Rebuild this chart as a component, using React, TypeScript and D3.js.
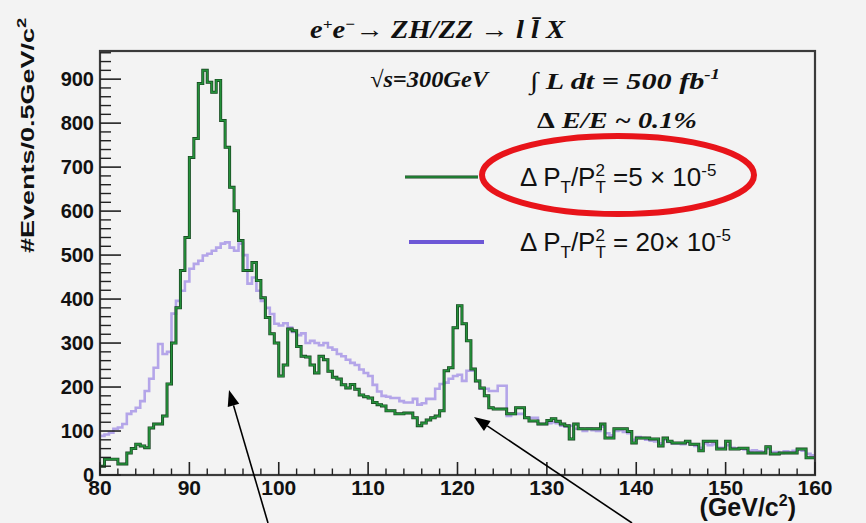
import React from "react";
import * as d3 from "d3";

const W = 866;
const H = 523;

// bin lower edges start at 80 GeV, bin width 0.5 GeV
const BIN_START = 80;
const BIN_WIDTH = 0.5;

// ΔPT/PT^2 = 5e-5 (green)
const greenCounts = [
  20, 36, 36, 36, 25, 25, 50, 60, 70, 66,
  62, 107, 116, 116, 134, 207, 300, 380, 465, 540,
  722, 765, 890, 920, 893, 870, 897, 806, 745, 654,
  601, 533, 465, 465, 483, 442, 403, 358, 321, 300,
  225, 250, 332, 328, 292, 270, 268, 250, 232, 270,
  262, 236, 222, 218, 205, 198, 206, 195, 182, 178,
  175, 165, 160, 157, 146, 146, 139, 139, 141, 141,
  130, 112, 118, 125, 130, 134, 146, 237, 244, 335,
  385, 344, 305, 241, 214, 198, 180, 153, 150, 150,
  150, 139, 139, 153, 153, 130, 123, 123, 116, 116,
  124, 128, 122, 116, 112, 82, 116, 105, 105, 105,
  105, 105, 116, 84, 84, 105, 105, 105, 99, 73,
  84, 84, 84, 82, 82, 66, 84, 77, 73, 73,
  73, 77, 70, 70, 55, 77, 77, 77, 59, 59,
  77, 59, 59, 61, 61, 50, 50, 50, 50, 64,
  48, 48, 50, 50, 50, 50, 59, 59, 39, 39,
];

// ΔPT/PT^2 = 20e-5 (purple)
const purpleCounts = [
  89, 92, 96, 105, 108, 116, 139, 145, 153, 168,
  191, 219, 244, 298, 275, 280, 367, 396, 419, 440,
  469, 480, 487, 499, 503, 510, 517, 526, 529, 517,
  510, 526, 500, 435, 449, 419, 396, 380, 366, 344,
  340, 345, 335, 325, 318, 322, 300, 305, 300, 295,
  300, 290, 285, 275, 270, 262, 255, 250, 240, 232,
  225, 205, 190, 180, 178, 175, 175, 168, 165, 165,
  173, 160, 163, 173, 173, 196, 207, 210, 219, 225,
  228, 214, 237, 237, 214, 196, 196, 191, 191, 203,
  203, 134, 139, 139, 139, 130, 130, 130, 116, 116,
  118, 120, 118, 112, 110, 112, 105, 105, 100, 105,
  102, 100, 110, 95, 90, 100, 102, 98, 95, 80,
  86, 84, 80, 78, 76, 72, 80, 75, 72, 72,
  70, 75, 70, 66, 62, 72, 68, 70, 62, 62,
  68, 62, 60, 60, 58, 55, 56, 54, 52, 60,
  52, 52, 50, 54, 52, 55, 58, 55, 48, 45,
];

const xTickValues = [80, 90, 100, 110, 120, 130, 140, 150, 160];
const yTickValues = [0, 100, 200, 300, 400, 500, 600, 700, 800, 900];

const X_DOMAIN = [80, 160];
const Y_DOMAIN = [0, 964];

const left = 100;
const right = 815;
const top = 51;
const bottom = 475;

const BG = "#f3f3f3";
const GREEN = "#24903a";
const GREEN_DARK = "#173f1f";
const PURPLE = "#a897e6";

export default function App() {
  const x = d3.scaleLinear().domain(X_DOMAIN).range([left, right]);
  const y = d3.scaleLinear().domain(Y_DOMAIN).range([bottom, top]);

  const histPath = (counts: number[]) => {
    const pts: [number, number][] = counts.map((c, i) => [BIN_START + i * BIN_WIDTH, c]);
    pts.push([BIN_START + counts.length * BIN_WIDTH, counts[counts.length - 1]]);
    return d3
      .line<[number, number]>()
      .x((d) => x(d[0]))
      .y((d) => y(d[1]))
      .curve(d3.curveStepAfter)(pts) as string;
  };

  const yMinor = d3.range(0, 961, 20).filter((v) => v % 100 !== 0);
  const xMinor = d3.range(80, 160.01, 2).filter((v) => v % 10 !== 0);

  const sans = "'Liberation Sans', Arial, Helvetica, sans-serif";
  const serif = "'Liberation Serif', 'Times New Roman', serif";

  const arrow = (x1: number, y1: number, x2: number, y2: number, key: string) => {
    const ang = Math.atan2(y2 - y1, x2 - x1);
    const len = 16;
    const wid = 6;
    const bx = x2 - len * Math.cos(ang);
    const by = y2 - len * Math.sin(ang);
    const px = -Math.sin(ang) * wid;
    const py = Math.cos(ang) * wid;
    return (
      <g key={key}>
        <line x1={x1} y1={y1} x2={bx} y2={by} stroke="#000" strokeWidth={1.6} />
        <polygon points={`${x2},${y2} ${bx + px},${by + py} ${bx - px},${by - py}`} fill="#000" />
      </g>
    );
  };

  const greenPath = histPath(greenCounts);
  const purplePath = histPath(purpleCounts);

  return (
    <svg
      width={W}
      height={H}
      style={{ position: "fixed", left: 0, top: 0, background: BG }}
      xmlns="http://www.w3.org/2000/svg"
    >
      <rect x={0} y={0} width={W} height={H} fill={BG} />

      {/* histograms */}
      <path d={purplePath} fill="none" stroke={PURPLE} strokeWidth={2.6} opacity={0.85} />
      <path d={greenPath} fill="none" stroke={GREEN_DARK} strokeWidth={3} />
      <path d={greenPath} fill="none" stroke={GREEN} strokeWidth={1.7} />

      {/* frame */}
      <rect x={left} y={top} width={right - left} height={bottom - top} fill="none" stroke="#3a3a3a" strokeWidth={2.2} />

      {/* y ticks */}
      {yTickValues.map((v) => (
        <line key={"ym" + v} x1={left} x2={left + 21} y1={y(v)} y2={y(v)} stroke="#222" strokeWidth={1.6} />
      ))}
      {yMinor.map((v) => (
        <line key={"yn" + v} x1={left} x2={left + 11} y1={y(v)} y2={y(v)} stroke="#222" strokeWidth={1.4} />
      ))}
      {yTickValues.map((v) => (
        <text
          key={"yl" + v}
          x={left - 6}
          y={y(v) + 7}
          textAnchor="end"
          fontFamily={sans}
          fontWeight="bold"
          fontSize={20}
          fill="#111"
        >
          {v}
        </text>
      ))}

      {/* x ticks */}
      {xTickValues.map((v) => (
        <line key={"xm" + v} x1={x(v)} x2={x(v)} y1={bottom} y2={bottom - 13} stroke="#222" strokeWidth={1.6} />
      ))}
      {xMinor.map((v) => (
        <line key={"xn" + v} x1={x(v)} x2={x(v)} y1={bottom} y2={bottom - 6.5} stroke="#222" strokeWidth={1.4} />
      ))}
      {xTickValues.map((v) => (
        <text
          key={"xl" + v}
          x={x(v)}
          y={bottom + 20}
          textAnchor="middle"
          fontFamily={sans}
          fontWeight="bold"
          fontSize={21}
          fill="#111"
        >
          {v}
        </text>
      ))}

      {/* axis titles */}
      <text
        transform={`translate(34, 253) rotate(-90) scale(1.42, 1)`}
        fontFamily={sans}
        fontWeight="bold"
        fontSize={19}
        fill="#111"
      >
        #Events/0.5GeV/c<tspan dy={-8} fontSize={13}>2</tspan>
      </text>
      <text x={796} y={516} textAnchor="end" fontFamily={sans} fontWeight="bold" fontSize={25} fill="#111">
        (GeV/c<tspan dy={-10} fontSize={16}>2</tspan><tspan dy={10}>)</tspan>
      </text>

      {/* title */}
      <text
        x={310}
        y={38}
        fontFamily={serif}
        fontStyle="italic"
        fontWeight="bold"
        fontSize={25}
        fill="#111"
        textLength={255}
        lengthAdjust="spacingAndGlyphs"
      >
        e<tspan dy={-9} fontSize={15}>+</tspan>
        <tspan dy={9}>e</tspan>
        <tspan dy={-9} fontSize={15}>−</tspan>
        <tspan dy={9}>→ ZH/ZZ → l l̄ X</tspan>
      </text>

      {/* annotations */}
      <text
        x={370}
        y={87}
        fontFamily={serif}
        fontStyle="italic"
        fontWeight="bold"
        fontSize={23}
        fill="#111"
        textLength={118}
        lengthAdjust="spacingAndGlyphs"
      >
        √s=300GeV
      </text>
      <text
        x={530}
        y={89}
        fontFamily={serif}
        fontStyle="italic"
        fontWeight="bold"
        fontSize={24}
        fill="#111"
        textLength={190}
        lengthAdjust="spacingAndGlyphs"
      >
        ∫ L dt = 500 fb<tspan dy={-10} fontSize={15}>-1</tspan>
      </text>
      <text
        x={537}
        y={128}
        fontFamily={serif}
        fontStyle="italic"
        fontWeight="bold"
        fontSize={24}
        fill="#111"
        textLength={160}
        lengthAdjust="spacingAndGlyphs"
      >
        <tspan fontStyle="normal">Δ</tspan> E/E ~ 0.1%
      </text>

      {/* legend */}
      <line x1={405} x2={478} y1={177} y2={177} stroke={GREEN_DARK} strokeWidth={3} />
      <line x1={405} x2={478} y1={177} y2={177} stroke={GREEN} strokeWidth={1.6} />
      <line x1={409} x2={484} y1={242} y2={242} stroke="#6d57d6" strokeWidth={4} />
      <text x={520} y={186} fontFamily={sans} fontSize={26} fill="#111">
        Δ P<tspan dy={7} fontSize={17}>T</tspan>
        <tspan dy={-7}>/P</tspan>
        <tspan dy={-10} fontSize={17}>2</tspan>
        <tspan dx={-9.5} dy={17} fontSize={17}>T</tspan>
        <tspan dy={-7}> =5 × 10</tspan>
        <tspan dy={-10} fontSize={17}>-5</tspan>
      </text>
      <text x={520} y={251} fontFamily={sans} fontSize={26} fill="#111">
        Δ P<tspan dy={7} fontSize={17}>T</tspan>
        <tspan dy={-7}>/P</tspan>
        <tspan dy={-10} fontSize={17}>2</tspan>
        <tspan dx={-9.5} dy={17} fontSize={17}>T</tspan>
        <tspan dy={-7}> = 20× 10</tspan>
        <tspan dy={-10} fontSize={17}>-5</tspan>
      </text>
      <ellipse cx={618} cy={175} rx={136} ry={39} fill="none" stroke="#e8141a" strokeWidth={6} />

      {/* arrows */}
      {arrow(268, 523, 229, 390, "a1")}
      {arrow(632, 523, 474, 417, "a2")}
    </svg>
  );
}
